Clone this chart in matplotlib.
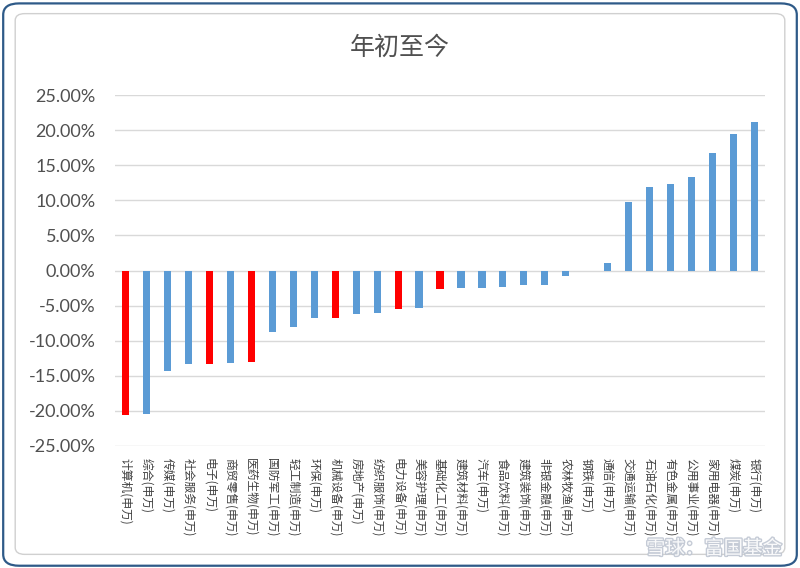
import matplotlib
matplotlib.use("Agg")
import matplotlib.pyplot as plt
from matplotlib.patches import FancyBboxPatch
from matplotlib.ticker import FuncFormatter, MultipleLocator
import matplotlib.patheffects as pe

plt.rcParams['font.family'] = ['Noto Sans CJK SC', 'DejaVu Sans']

categories = ["计算机", "综合", "传媒", "社会服务", "电子", "商贸零售", "医药生物",
              "国防军工", "轻工制造", "环保", "机械设备", "房地产", "纺织服饰", "电力设备",
              "美容护理", "基础化工", "建筑材料", "汽车", "食品饮料", "建筑装饰", "非银金融",
              "农林牧渔", "钢铁", "通信", "交通运输", "石油石化", "有色金属", "公用事业",
              "家用电器", "煤炭", "银行"]
values = [-20.6, -20.4, -14.3, -13.3, -13.3, -13.2, -13.1,
          -8.8, -8.1, -6.8, -6.8, -6.2, -6.0, -5.5,
          -5.4, -2.7, -2.5, -2.5, -2.3, -2.0, -2.0,
          -0.75, -0.1, 1.0, 9.8, 11.9, 12.3, 13.3,
          16.7, 19.5, 21.1]
highlighted = ["计算机", "电子", "医药生物", "机械设备", "电力设备", "基础化工"]
tick_labels = [c + "(申万)" for c in categories]
title = "年初至今"

blue = "#5B9BD5"
red = "#FF0000"
colors = [red if c in highlighted else blue for c in categories]

fig = plt.figure(figsize=(8, 5.68), dpi=100)

# outer and inner rounded frames
outer = FancyBboxPatch((0.004, 0.004), 0.992, 0.990, boxstyle="round,pad=0,rounding_size=0.02",
                       transform=fig.transFigure, facecolor="white", edgecolor="#2E5A88",
                       linewidth=1.6, zorder=-10)
inner = FancyBboxPatch((0.019, 0.024), 0.962, 0.952, boxstyle="round,pad=0,rounding_size=0.012",
                       transform=fig.transFigure, facecolor="white", edgecolor="#D0D0D0",
                       linewidth=1.0, zorder=-9)
fig.patches.extend([outer, inner])

ax = fig.add_axes([0.14375, 0.2148, 0.8125, 0.6179])
ax.set_facecolor("none")
x = list(range(len(categories)))
ax.bar(x, [v / 100 for v in values], width=0.34, color=colors, zorder=3)

ax.set_xlim(-0.5, len(categories) - 0.5)
ax.set_ylim(-0.25, 0.25)
ax.yaxis.set_major_locator(MultipleLocator(0.05))
ax.yaxis.set_major_formatter(FuncFormatter(lambda v, p: f"{v*100:.2f}%"))
ax.grid(axis="y", color="#D9D9D9", linewidth=1.0, zorder=0)
for s in ax.spines.values():
    s.set_visible(False)
ax.tick_params(axis="both", length=0)
ax.tick_params(axis="y", labelsize=13, labelcolor="#505050", pad=14)
for lbl in ax.get_yticklabels():
    lbl.set_fontfamily(["Lato", "DejaVu Sans"])
ax.set_xticks(x)
ax.set_xticklabels(tick_labels, rotation=-90, fontsize=8.5, color="#404040", va="top", ha="center")
ax.tick_params(axis="x", pad=9)

fig.text(0.5, 0.915, title, ha="center", va="center", fontsize=18, color="#505050")

fig.text(0.978, 0.034, "雪球：富国基金", ha="right", va="center", fontsize=14,
         color="white", alpha=0.9,
         path_effects=[pe.withStroke(linewidth=2.0, foreground="#BFC6D2")])

fig.savefig("out.png", dpi=100)
